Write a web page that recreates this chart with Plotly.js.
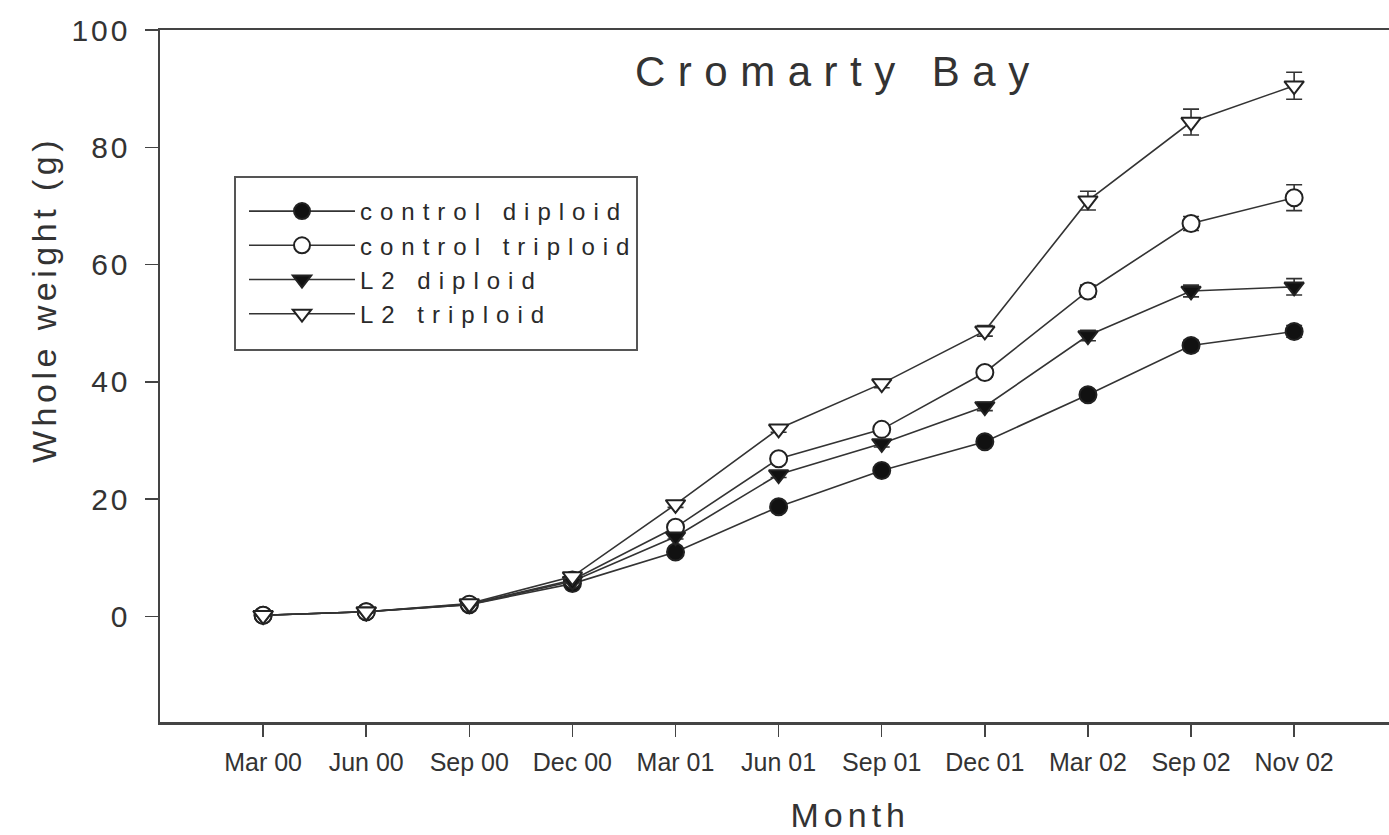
<!DOCTYPE html>
<html>
<head>
<meta charset="utf-8">
<script src="https://cdn.plot.ly/plotly-3.0.1.min.js"></script>
<style>
html,body{margin:0;padding:0;background:#fff;}
#chart{width:1389px;height:835px;}
g.annotation[data-index="0"] .annotation-text{letter-spacing:12.5px;}
g.annotation[data-index="1"] .annotation-text{letter-spacing:4.5px;}
g.annotation[data-index="2"] .annotation-text{letter-spacing:5px;}
.legendtext{letter-spacing:8px;}
.ytick text{letter-spacing:3px;}
</style>
</head>
<body>
<div id="chart"></div>
<script>
const months = ["Mar 00","Jun 00","Sep 00","Dec 00","Mar 01","Jun 01","Sep 01","Dec 01","Mar 02","Sep 02","Nov 02"];
const monthIndex = [0,1,2,3,4,5,6,7,8,9,10];

const controlDiploid   = [0.2, 0.8, 2.0, 5.6, 11.0, 18.7, 24.9, 29.8, 37.8, 46.2, 48.6];
const controlTriploid  = [0.2, 0.8, 2.1, 6.2, 15.2, 26.9, 31.9, 41.6, 55.5, 67.0, 71.4];
const l2Diploid        = [0.2, 0.8, 2.0, 6.0, 13.6, 24.2, 29.5, 35.8, 47.9, 55.5, 56.2];
const l2Triploid       = [0.2, 0.8, 2.2, 6.8, 19.1, 32.0, 39.7, 48.7, 70.9, 84.3, 90.5];

const errControlDiploid  = [0.1,0.1,0.1,0.3,0.4,0.5,0.6,0.7,0.8,0.9,1.0];
const errControlTriploid = [0.1,0.1,0.1,0.3,0.5,0.6,0.7,0.8,1.0,1.2,2.2];
const errL2Diploid       = [0.1,0.1,0.1,0.3,0.4,0.5,0.6,0.7,0.9,1.0,1.4];
const errL2Triploid      = [0.1,0.1,0.1,0.3,0.5,0.6,0.7,0.9,1.6,2.2,2.3];

const chartTitle = "Cromarty Bay";
const yTitle = "Whole weight (g)";
const xTitle = "Month";

const lineColor = "#333";
function series(name, y, err, symbol, fill) {
  return {
    x: monthIndex, y: y, name: name, type: "scatter", mode: "lines+markers",
    line: {color: lineColor, width: 1.6},
    marker: {symbol: symbol, size: 17, color: fill, line: {color: "#222", width: 2}},
    error_y: {type: "data", array: err, visible: true, color: "#333", thickness: 1.6, width: 8}
  };
}

const data = [
  series("control diploid", controlDiploid, errControlDiploid, "circle", "#111"),
  series("control triploid", controlTriploid, errControlTriploid, "circle", "#fff"),
  series("L2 diploid", l2Diploid, errL2Diploid, "triangle-down", "#111"),
  series("L2 triploid", l2Triploid, errL2Triploid, "triangle-down", "#fff")
];

const px2x = p => (p - 160) / 1229;
const px2y = p => (722 - p) / 692;

const layout = {
  width: 1389, height: 835,
  margin: {l: 160, r: 0, t: 30, b: 113},
  paper_bgcolor: "#fff", plot_bgcolor: "#fff",
  font: {family: "Liberation Sans, Arial, sans-serif", color: "#333"},
  showlegend: true,
  legend: {
    x: px2x(244), y: px2y(189), xanchor: "left", yanchor: "top",
    bgcolor: "rgba(0,0,0,0)", borderwidth: 0,
    font: {size: 24, color: "#2a2a2a"},
    itemwidth: 106,
    tracegroupgap: 0
  },
  shapes: [{
    type: "rect", xref: "paper", yref: "paper",
    x0: px2x(235), x1: px2x(637), y0: px2y(350), y1: px2y(177),
    line: {color: "#555", width: 2}, fillcolor: "rgba(255,255,255,0)", layer: "above"
  }],
  xaxis: {
    range: [-1.0, 10.92],
    tickmode: "array", tickvals: monthIndex, ticktext: months,
    showline: true, linecolor: "#444", linewidth: 2.5, mirror: true,
    ticks: "outside", ticklen: 12, tickcolor: "#444", tickwidth: 1.5,
    ticklabelstandoff: 4,
    tickfont: {size: 25, color: "#333"},
    showgrid: false, zeroline: false
  },
  yaxis: {
    range: [-18, 100],
    tickvals: [0, 20, 40, 60, 80, 100],
    showline: true, linecolor: "#444", linewidth: 2.5, mirror: false,
    ticks: "outside", ticklen: 13, tickcolor: "#444", tickwidth: 1.5,
    ticklabelstandoff: 8,
    tickfont: {size: 30, color: "#333"},
    showgrid: false, zeroline: false
  },
  annotations: [
    {
      text: chartTitle, xref: "paper", yref: "paper",
      x: px2x(838), y: px2y(71), xanchor: "center", yanchor: "middle",
      showarrow: false, font: {size: 42, color: "#333"}
    },
    {
      text: yTitle, xref: "paper", yref: "paper", textangle: -90,
      x: px2x(44), y: px2y(300), xanchor: "center", yanchor: "middle",
      showarrow: false, font: {size: 34, color: "#333"}
    },
    {
      text: xTitle, xref: "paper", yref: "paper",
      x: px2x(850), y: px2y(815), xanchor: "center", yanchor: "middle",
      showarrow: false, font: {size: 34, color: "#333"}
    }
  ]
};

Plotly.newPlot("chart", data, layout, {displayModeBar: false, staticPlot: true});
</script>
</body>
</html>
